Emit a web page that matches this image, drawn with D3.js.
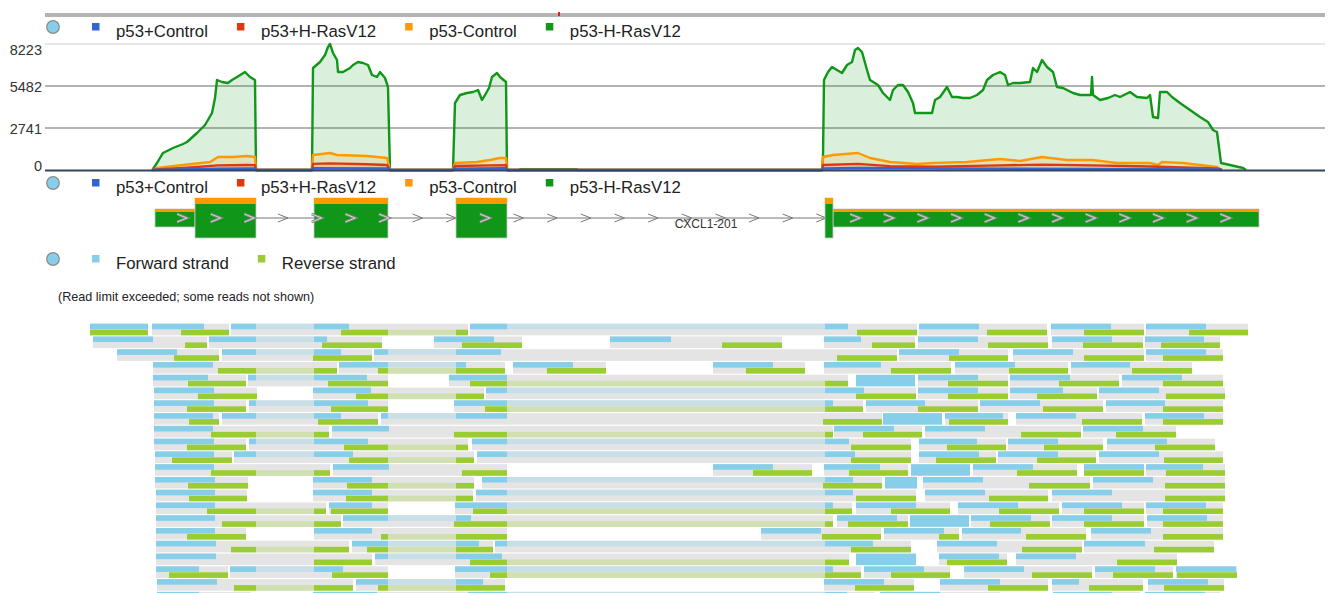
<!DOCTYPE html>
<html>
<head>
<meta charset="utf-8">
<script src="https://cdn.jsdelivr.net/npm/d3@7"></script>
<style>
  body { margin: 0; background: #fff; }
  svg { display: block; font-family: Arial, "Liberation Sans", sans-serif; }
</style>
</head>
<body>
<svg id="svg" width="1330" height="593"></svg>
<script>
// ---- data ----
const sampleNames = ["p53+Control", "p53+H-RasV12", "p53-Control", "p53-H-RasV12"];
const strandNames = ["Forward strand", "Reverse strand"];
const yTicks = [0, 2741, 5482, 8223];
const transcriptName = "CXCL1-201";
const noteText = "(Read limit exceeded; some reads not shown)";

// coverage per sample: [position, depth]
const covBlue = [[152,0],[218,80],[255,100],[256,0],[312,0],[313,120],[388,100],[390,0],[453,0],[455,90],[506,110],[507,0],
  [822,0],[823,100],[858,140],[1000,90],[1217,30],[1222,0]];
const covRed = [[152,0],[160,50],[183,130],[218,300],[247,330],[255,320],[256,0],[312,0],[313,400],[330,430],[367,380],[387,330],[390,0],
  [453,0],[455,260],[490,300],[506,320],[507,0],[822,0],[823,330],[858,400],[890,250],[933,220],[1000,300],[1042,350],[1092,300],[1150,230],[1217,100],[1222,0]];
const covOrange = [[152,0],[157,131],[183,326],[210,522],[218,848],[233,848],[247,914],[255,848],[256,0],[312,0],[313,979],[330,1109],[337,979],[367,914],[387,783],[390,0],
  [453,0],[455,457],[477,522],[490,653],[500,783],[506,783],[507,0],[822,0],[823,848],[833,979],[858,1109],[870,783],[890,522],[917,392],[933,457],[967,522],
  [1000,718],[1020,587],[1042,848],[1067,653],[1092,653],[1117,457],[1150,457],[1158,326],[1162,522],[1183,457],[1217,196],[1222,0]];
const covGreen = [[152,0],[153,65],[157,457],[163,1110],[173,1436],[183,1697],[187,1827],[197,2415],[205,2937],[212,3720],[215,4699],[217,5873],[222,5743],
  [228,5678],[232,5873],[237,6069],[245,6395],[250,6069],[255,5873],[256,0],
  [312,0],[313,6656],[320,7048],[325,7505],[328,8027],[330,8223],[333,7636],[337,7179],[338,6395],[343,6395],[350,6656],[353,6852],[358,7048],[363,6983],
  [368,6852],[372,6200],[377,6069],[380,6395],[385,6004],[388,5417],[390,0],
  [453,0],[455,4372],[460,4895],[467,5025],[473,5090],[478,5221],[482,4568],[485,4895],[489,5351],[492,6069],[497,6330],[500,6069],[506,5743],[507,0],
  [519,0],[520,50],[577,50],[578,0],
  [822,0],[823,848],[824,5873],[828,6395],[832,6722],[837,6526],[842,6330],[847,6852],[852,7048],[855,7831],[858,7962],[862,7701],[867,6526],[870,5873],
  [878,5547],[883,5025],[890,4568],[893,5221],[898,5547],[903,5547],[908,5090],[913,4372],[915,3720],[932,3720],[935,4568],[940,4764],[947,5417],[952,4764],
  [957,4764],[963,4699],[970,4699],[977,4895],[983,5221],[987,5873],[993,6200],[1000,6395],[1005,6200],[1008,5547],[1013,5678],[1020,5678],[1030,5743],
  [1033,6656],[1037,6395],[1042,7179],[1047,6722],[1053,6395],[1057,5417],[1063,5351],[1073,5025],[1080,4895],[1091,4895],[1092,6069],[1093,4895],
  [1100,4568],[1108,4699],[1115,4895],[1120,4764],[1130,5090],[1137,4764],[1147,4699],[1150,4895],[1153,3459],[1158,3394],[1160,5090],[1167,5090],
  [1172,4764],[1180,4372],[1190,3916],[1200,3459],[1208,3132],[1213,2610],[1217,2480],[1221,457],[1230,326],[1243,131],[1246,0]];

// transcript model
const cdsExons = [[195,256],[314,388],[456,507],[825,833]];
const utrExons = [[155,195],[833,1259]];
const introns = [[256,314],[388,456],[507,825]];

// read pairs per row: [start, forwardEnd, reverseStart, end]
const readRows = [
  [[90,148,90,148],[152,204,181,229],[231,349,341,468],[470,848,857,917],[919,979,987,1047],[1051,1111,1084,1144],[1146,1206,1189,1248]],
  [[93,153,185,207],[209,327,322,382],[434,494,462,522],[610,671,722,782],[824,861,872,915],[918,978,988,1048],[1052,1112,1083,1143],[1145,1204,1161,1220]],
  [[117,177,174,219],[222,341,313,372],[374,501,837,897],[899,959,949,1008],[1013,1073,1084,1144],[1146,1206,1163,1223]],
  [[153,213,218,337],[339,466,378,505],[513,573,547,606],[713,773,746,805],[824,881,891,951],[955,1015,1009,1068],[1071,1130,1132,1192]],
  [[153,208,188,246],[248,367,328,388],[449,507,470,848],[918,978,948,1008],[1010,1070,1059,1119],[1122,1182,1163,1223]],
  [[154,214,198,257],[313,371,356,484],[486,864,856,916],[918,978,948,1008],[1010,1063,1037,1097],[1099,1159,1166,1225]],
  [[154,214,187,246],[249,368,331,388],[454,833,485,863],[866,925,918,978],[980,1040,1043,1103],[1106,1165,1163,1223]],
  [[154,213,189,219],[222,341,318,378],[381,507,823,882],[945,1003,949,1008],[1016,1076,1082,1142],[1145,1204,1163,1223]],
  [[154,213,211,329],[332,389,454,833],[834,894,863,922],[925,985,1021,1081],[1083,1143,1116,1176]],
  [[154,214,187,246],[249,368,344,468],[472,849,851,911],[919,977,947,1006],[1008,1058,1044,1103],[1107,1167,1155,1215]],
  [[155,214,172,232],[234,353,349,474],[477,855,851,911],[919,979,936,996],[998,1058,1037,1096],[1099,1159,1164,1223]],
  [[155,214,211,330],[333,389,462,507],[713,773,753,812],[824,880,849,908],[973,1033,1017,1077],[1084,1144,1084,1144],[1146,1203,1166,1225]],
  [[155,215,188,248],[313,372,347,474],[482,853,823,882],[923,983,1029,1090],[1093,1153,1165,1225]],
  [[156,215,189,247],[313,372,346,473],[476,853,856,916],[925,985,989,1048],[1052,1112,1165,1225]],
  [[156,215,207,326],[329,372,331,388],[455,833,473,852],[856,916,891,950],[958,1018,999,1059],[1062,1122,1084,1144],[1146,1206,1163,1223]],
  [[156,215,222,341],[343,471,454,833],[837,897,848,908],[971,1031,990,1050],[1052,1112,1084,1144],[1147,1207,1163,1223]],
  [[156,215,187,246],[314,372,381,507],[761,821,822,881],[884,944,939,959],[962,1021,1026,1086],[1091,1151,1163,1223]],
  [[156,216,231,349],[352,479,367,493],[495,873,851,911],[937,997,1022,1082],[1084,1145,1154,1214]],
  [[156,216,314,372],[375,502,470,849],[939,999,947,1007],[1016,1076,1117,1177]],
  [[156,199,169,228],[230,343,332,388],[455,833,490,861],[864,924,891,950],[964,1024,1032,1092],[1095,1155,1113,1173],[1176,1236,1177,1237]],
  [[157,217,234,353],[356,483,378,505],[824,884,855,914],[940,1000,988,1048],[1052,1079,1089,1143],[1148,1208,1164,1224]],
  [[157,199,180,251],[313,377,330,468],[468,847,830,875],[880,940,900,1000],[1053,1112,1080,1140],[1145,1205,1160,1220]]
];
// overlapping forward mates drawn as one tall block: [row, start, end]
const forwardBlocks = [[4,856,915],[7,883,942],[11,911,970],[12,885,917],[15,910,969],[18,856,916]];

// ---- drawing ----
const svg = d3.select("#svg");
const W = 1330;
const sampleColors = ["#3366cc", "#dc3912", "#ff9900", "#109618"];
const fwdColor = "#87ceeb", revColor = "#9acd32";
const fwdPale = "#c9dfe8", revPale = "#d0e0b0";

const x = d3.scaleLinear().domain([45, 1325]).range([45, W - 5]);
const y = d3.scaleLinear().domain([0, 8223]).range([170, 44]);

// top locator bar
svg.append("rect").attr("x", x(45)).attr("y", 13).attr("width", x(1325) - x(45)).attr("height", 4).attr("fill", "#b4b4b4");
svg.append("rect").attr("x", x(558)).attr("y", 12).attr("width", 2).attr("height", 4).attr("fill", "#e0201a");

function legend(yc, names, colors) {
  const g = svg.append("g");
  g.append("circle").attr("cx", 53).attr("cy", yc).attr("r", 6.3)
    .attr("fill", "#87ceeb").attr("stroke", "#8a8a8a").attr("stroke-width", 1.2);
  let xpos = 92;
  names.forEach((n, i) => {
    g.append("rect").attr("x", xpos).attr("y", yc - 4).attr("width", 7.5).attr("height", 7.5).attr("fill", colors[i]);
    const t = g.append("text").attr("x", xpos + 24).attr("y", yc + 10)
      .attr("font-size", 16.8).attr("fill", "#222").text(n);
    xpos = xpos + 24 + t.node().getComputedTextLength() + 29;
  });
}
legend(27, sampleNames, sampleColors);

// gridlines and labels
svg.selectAll(".grid").data(yTicks.filter(d => d > 0)).enter().append("line")
  .attr("x1", x(45)).attr("x2", x(1325))
  .attr("y1", d => y(d)).attr("y2", d => y(d))
  .attr("stroke", d => d === 8223 ? "#cfcfcf" : "#b3b3b3")
  .attr("stroke-width", d => d === 8223 ? 1 : 2);

const area = d3.area().x(d => x(d[0])).y0(y(0)).y1(d => y(d[1]));
const line = d3.line().x(d => x(d[0])).y(d => y(d[1]));
[covGreen, covOrange, covRed, covBlue].forEach((s, i) => {
  const c = sampleColors[3 - i];
  svg.append("path").datum(s).attr("d", area).attr("fill", c).attr("fill-opacity", 0.15);
  svg.append("path").datum(s).attr("d", line).attr("fill", "none")
    .attr("stroke", c).attr("stroke-width", 2.4).attr("stroke-linejoin", "round");
});
svg.append("line").attr("x1", x(45)).attr("x2", x(1325)).attr("y1", y(0) + 0.5).attr("y2", y(0) + 0.5)
  .attr("stroke", "#354260").attr("stroke-width", 2);

svg.selectAll(".ylab").data(yTicks).enter().append("text")
  .attr("x", 42).attr("y", d => Math.max(50, Math.min(166, y(d) + 1)))
  .attr("dy", "0.36em").attr("text-anchor", "end")
  .attr("font-size", 14.5).attr("fill", "#333").text(d => d);

legend(183, sampleNames, sampleColors);

// transcript
const geneY = 218;
const gene = svg.append("g");
gene.append("line").attr("x1", x(155)).attr("x2", x(1259)).attr("y1", geneY).attr("y2", geneY)
  .attr("stroke", "#777").attr("stroke-width", 1);
const chevron = "M-5,-4L5,0L-5,4";
const chevPos = d3.range(182, 1250, 33.65);
const inExon = p => cdsExons.concat(utrExons).some(e => p > e[0] && p < e[1]);
gene.selectAll(".ic").data(chevPos.filter(p => !inExon(p))).enter().append("path")
  .attr("d", chevron).attr("transform", d => `translate(${x(d)},${geneY})`)
  .attr("fill", "none").attr("stroke", "#777").attr("stroke-width", 1);

utrExons.forEach(e => {
  gene.append("rect").attr("x", x(e[0])).attr("y", 209).attr("width", x(e[1]) - x(e[0])).attr("height", 18)
    .attr("fill", "#109618").attr("stroke", "#c9c9c9").attr("stroke-width", 0.8);
  gene.append("rect").attr("x", x(e[0])).attr("y", 209).attr("width", x(e[1]) - x(e[0])).attr("height", 3).attr("fill", "#ff9900");
});
cdsExons.forEach(e => {
  gene.append("rect").attr("x", x(e[0])).attr("y", 198).attr("width", x(e[1]) - x(e[0])).attr("height", 40)
    .attr("fill", "#109618").attr("stroke", "#c9c9c9").attr("stroke-width", 0.8);
  gene.append("rect").attr("x", x(e[0])).attr("y", 198).attr("width", x(e[1]) - x(e[0])).attr("height", 6).attr("fill", "#ff9900");
});
const exChev = chevPos.filter(p => inExon(p));
gene.selectAll(".ec").data(exChev).enter().append("path")
  .attr("d", chevron).attr("transform", d => `translate(${x(d)},${geneY})`)
  .attr("fill", "none").attr("stroke", "#8c8c8c").attr("stroke-width", 2.6);
gene.selectAll(".ec2").data(exChev).enter().append("path")
  .attr("d", chevron).attr("transform", d => `translate(${x(d)},${geneY})`)
  .attr("fill", "none").attr("stroke", "#cfcfcf").attr("stroke-width", 1);
gene.append("text").attr("x", x(706)).attr("y", 228).attr("text-anchor", "middle")
  .attr("font-size", 12).attr("fill", "#333").text(transcriptName);

legend(259, strandNames, [fwdColor, revColor]);

svg.append("text").attr("x", 58).attr("y", 301).attr("font-size", 12.6).attr("fill", "#222").text(noteText);

// reads
const rowY = d3.scaleLinear().domain([0, 1]).range([323.7, 336.47]);
const rowH = 11.6, subH = 5.6;
const reads = svg.append("g");

function segments(a, b) {
  // split a read at introns it fully spans (spliced part drawn pale)
  const out = [];
  let cur = a;
  introns.forEach(iv => {
    if (a < iv[0] && b > iv[1]) {
      out.push([cur, iv[0], false]);
      out.push([iv[0], iv[1], true]);
      cur = iv[1];
    }
  });
  out.push([cur, b, false]);
  return out;
}

readRows.forEach((row, r) => {
  const y0 = rowY(r);
  row.forEach(p => {
    reads.append("rect").attr("x", x(p[0])).attr("y", y0).attr("width", x(p[3]) - x(p[0])).attr("height", rowH).attr("fill", "#e4e4e4");
    segments(p[0], p[1]).forEach(s => {
      reads.append("rect").attr("x", x(s[0])).attr("y", y0).attr("width", x(s[1]) - x(s[0])).attr("height", subH)
        .attr("fill", s[2] ? fwdPale : fwdColor);
    });
    segments(p[2], p[3]).forEach(s => {
      reads.append("rect").attr("x", x(s[0])).attr("y", y0 + rowH - subH).attr("width", x(s[1]) - x(s[0])).attr("height", subH)
        .attr("fill", s[2] ? revPale : revColor);
    });
  });
});
forwardBlocks.forEach(b => {
  reads.append("rect").attr("x", x(b[1])).attr("y", rowY(b[0])).attr("width", x(b[2]) - x(b[1])).attr("height", rowH).attr("fill", fwdColor);
});
</script>
</body>
</html>
